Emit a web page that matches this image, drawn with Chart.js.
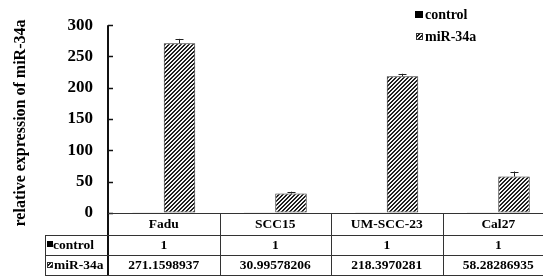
<!DOCTYPE html>
<html>
<head>
<meta charset="utf-8">
<script src="https://cdn.jsdelivr.net/npm/chart.js@4/dist/chart.umd.min.js"></script>
<style>
html,body{margin:0;padding:0;overflow:hidden;background:#fff;}
#wrap{width:554px;height:276px;}
</style>
</head>
<body>
<div id="wrap"><canvas id="c" width="554" height="276"></canvas></div>
<script>
const categories = ['Fadu', 'SCC15', 'UM-SCC-23', 'Cal27'];
const seriesNames = ['control', 'miR-34a'];
const controlValues = [1, 1, 1, 1];
const mirValues = [271.1598937, 30.99578206, 218.3970281, 58.28286935];
const mirErrors = [7, 3, 4, 8];
const controlLabels = ['1', '1', '1', '1'];
const mirLabels = ['271.1598937', '30.99578206', '218.3970281', '58.28286935'];
const yTitle = 'relative expression of miR-34a';
const yMin = 0, yMax = 300, yStep = 50;

const FONT = "'Liberation Serif', 'Times New Roman', serif";

function makeHatch() {
  const t = document.createElement('canvas');
  t.width = 4; t.height = 4;
  const g = t.getContext('2d');
  const img = g.createImageData(4, 4);
  for (let y = 0; y < 4; y++) for (let x = 0; x < 4; x++) {
    const k = (x + y) % 4;
    const dark = (k === 0 || k === 1);
    const v = dark ? 30 : 245;
    const i = (y * 4 + x) * 4;
    img.data[i] = v; img.data[i+1] = v; img.data[i+2] = v; img.data[i+3] = 255;
  }
  g.putImageData(img, 0, 0);
  return document.getElementById('c').getContext('2d').createPattern(t, 'repeat');
}
const hatch = makeHatch();

const decor = {
  id: 'decor',
  afterDatasetsDraw(chart) {
    const ctx = chart.ctx;
    const ca = chart.chartArea;
    const xs = chart.scales.x, ys = chart.scales.y;
    ctx.save();
    // error bars
    const meta = chart.getDatasetMeta(1);
    ctx.strokeStyle = '#222';
    ctx.lineWidth = 1;
    meta.data.forEach((bar, i) => {
      const x = Math.round(bar.x) + 0.5;
      const yTop = ys.getPixelForValue(mirValues[i] + mirErrors[i]);
      const yv = ys.getPixelForValue(mirValues[i]);
      ctx.beginPath();
      ctx.moveTo(x, yv); ctx.lineTo(x, yTop);
      ctx.moveTo(x - 4, Math.round(yTop) + 0.5); ctx.lineTo(x + 4, Math.round(yTop) + 0.5);
      ctx.stroke();
    });
    // axis line + inside ticks
    ctx.strokeStyle = '#111';
    ctx.lineWidth = 2;
    ctx.beginPath();
    ctx.moveTo(ca.left, ca.top); ctx.lineTo(ca.left, 275);
    ctx.stroke();
    ys.ticks.forEach(t => {
      const y = Math.round(ys.getPixelForValue(t.value)) + 0.5;
      ctx.lineWidth = 1.5;
      ctx.beginPath(); ctx.moveTo(ca.left, y); ctx.lineTo(ca.left + 5, y); ctx.stroke();
    });
    // table
    const rowY = [ca.bottom, 235, 255, 275];
    const right = chart.width;
    const leftCol = 45;
    ctx.strokeStyle = '#333';
    ctx.lineWidth = 1;
    ctx.beginPath();
    ctx.moveTo(ca.left, Math.round(rowY[0]) + 0.5); ctx.lineTo(right, Math.round(rowY[0]) + 0.5);
    for (let r = 1; r < 4; r++) { ctx.moveTo(leftCol, rowY[r] + 0.5); ctx.lineTo(right, rowY[r] + 0.5); }
    ctx.moveTo(leftCol + 0.5, rowY[1]); ctx.lineTo(leftCol + 0.5, rowY[3]);
    const cw = xs.getPixelForValue(1) - xs.getPixelForValue(0);
    for (let i = 1; i < categories.length; i++) {
      const bx = Math.round(xs.getPixelForValue(i) - cw / 2) + 0.5;
      ctx.moveTo(bx, rowY[0]); ctx.lineTo(bx, rowY[3]);
    }
    ctx.stroke();
    ctx.fillStyle = '#000';
    ctx.font = 'bold 13.5px ' + FONT;
    ctx.textAlign = 'center';
    ctx.textBaseline = 'middle';
    categories.forEach((c, i) => {
      const cx = xs.getPixelForValue(i);
      ctx.fillText(c, cx, (rowY[0] + rowY[1]) / 2 + 1);
      ctx.fillText(controlLabels[i], cx, (rowY[1] + rowY[2]) / 2 + 1);
      ctx.fillText(mirLabels[i], cx, (rowY[2] + rowY[3]) / 2 + 1);
    });
    // row headers
    ctx.textAlign = 'left';
    ctx.font = 'bold 13.5px ' + FONT;
    ctx.fillStyle = '#000';
    ctx.fillRect(47, 241, 6, 6);
    ctx.fillText(seriesNames[0], 53, (rowY[1] + rowY[2]) / 2 + 1);
    ctx.fillStyle = hatch;
    ctx.fillRect(47, 262, 6, 6);
    ctx.strokeStyle = '#333';
    ctx.strokeRect(47.5, 262.5, 5, 5);
    ctx.fillStyle = '#000';
    ctx.fillText(seriesNames[1], 54, (rowY[2] + rowY[3]) / 2 + 1);
    // legend
    ctx.font = 'bold 14px ' + FONT;
    ctx.fillRect(415, 11, 8, 7);
    ctx.fillText(seriesNames[0], 425, 15);
    ctx.fillStyle = hatch;
    ctx.fillRect(416, 33, 7, 7);
    ctx.strokeRect(416.5, 33.5, 6, 6);
    ctx.fillStyle = '#000';
    ctx.fillText(seriesNames[1], 425, 37);
    // y title
    ctx.save();
    ctx.translate(21, 123);
    ctx.rotate(-Math.PI / 2);
    ctx.textAlign = 'center';
    ctx.font = 'bold 16px ' + FONT;
    ctx.fillText(yTitle, 0, 0);
    ctx.restore();
    ctx.restore();
  }
};

new Chart(document.getElementById('c'), {
  type: 'bar',
  data: {
    labels: categories,
    datasets: [
      { label: seriesNames[0], data: controlValues, backgroundColor: '#000', borderColor: '#000', borderWidth: 1, borderSkipped: false },
      { label: seriesNames[1], data: mirValues, backgroundColor: hatch, borderColor: '#333', borderWidth: 1, borderSkipped: false }
    ]
  },
  options: {
    responsive: false,
    animation: false,
    devicePixelRatio: 1,
    layout: { padding: { top: 18, bottom: 63, left: 0, right: 0 } },
    datasets: { bar: { barPercentage: 1, categoryPercentage: 0.565 } },
    plugins: { legend: { display: false }, tooltip: { enabled: false } },
    scales: {
      x: { display: false },
      y: {
        min: yMin, max: yMax,
        ticks: { stepSize: yStep, color: '#000', font: { family: FONT, size: 17, weight: 'bold' }, padding: 15 },
        grid: { drawOnChartArea: false, drawTicks: false },
        border: { display: false },
        afterFit(s) { s.width = 108; }
      }
    }
  },
  plugins: [decor]
});
</script>
</body>
</html>
